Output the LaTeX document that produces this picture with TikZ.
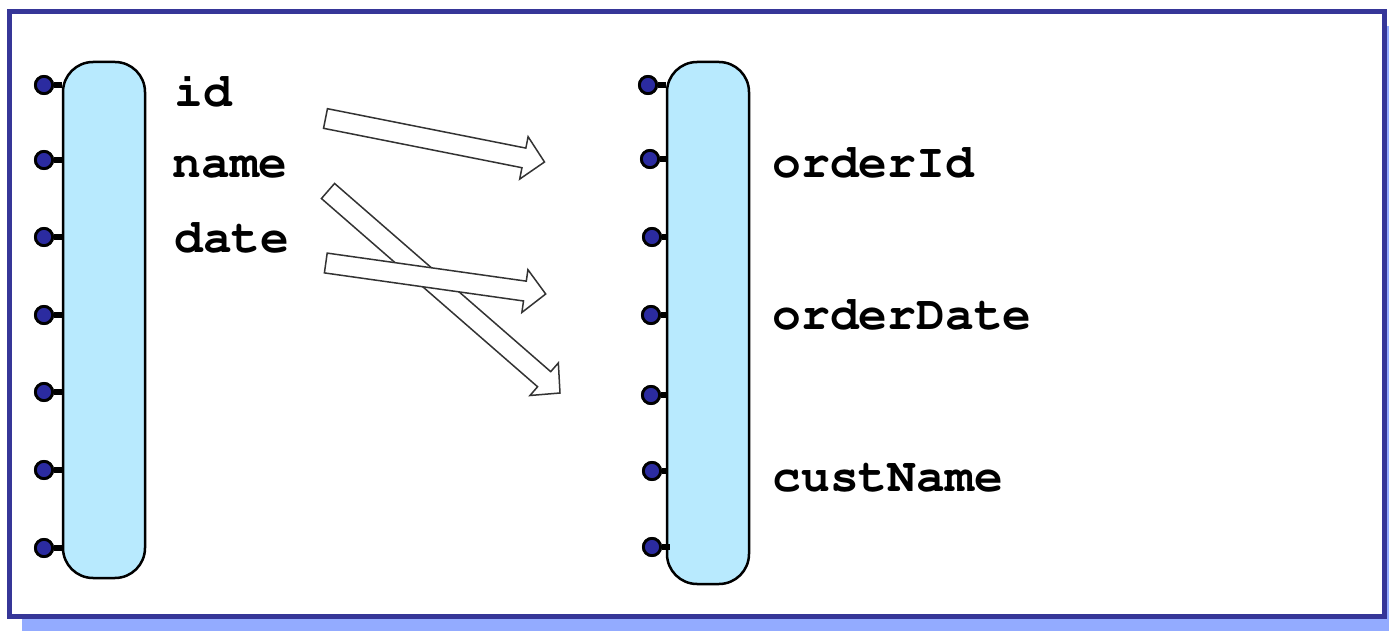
\documentclass[tikz,border=0pt]{standalone}
\usepackage[T1]{fontenc}
\usetikzlibrary{calc}
\definecolor{framec}{HTML}{363698}
\definecolor{shadowc}{HTML}{93ABFF}
\definecolor{barc}{HTML}{B8EAFE}
\definecolor{pinc}{HTML}{2B2BA0}
\definecolor{arrc}{HTML}{333333}
\tikzset{
  bar/.style={draw=black, line width=1.25pt, fill=barc, rounded corners=15pt,
    minimum width=41pt, inner sep=0pt},
  pindot/.style={circle, draw=black, line width=1.4pt, fill=pinc, minimum size=8.6pt, inner sep=0pt},
  stub/.style={line width=2.6pt, draw=black},
  lbl/.style={anchor=base west, inner sep=0pt, font=\fontfamily{pcr}\fontseries{b}\fontsize{24}{28}\selectfont},
  blk/.style={draw=arrc, line width=0.75pt, fill=white, line join=miter},
}
\newcommand{\blockarr}[3]{%
  \coordinate (#1t) at #2;
  \coordinate (#1p) at #3;
  \coordinate (#1h) at ($(#1p)!10.5pt!(#1t)$);
  \draw[blk] ($(#1t)!5pt!90:(#1p)$) -- ($(#1h)!5pt!90:(#1p)$) -- ($(#1h)!10.8pt!90:(#1p)$)
    -- (#1p) -- ($(#1h)!10.8pt!-90:(#1p)$) -- ($(#1h)!5pt!-90:(#1p)$) -- ($(#1t)!5pt!-90:(#1p)$) -- cycle;
}
\begin{document}
\begin{tikzpicture}[x=0.5pt,y=-0.5pt]
\useasboundingbox (0,0) rectangle (1389,631);
\begin{scope}
\clip (0,0) rectangle (1389,631);
\fill[shadowc] (22,26) rectangle (1400,640);
\end{scope}
\draw[framec, line width=2.5pt, fill=white] (9.5,11.5) rectangle (1384.7,616);

% bars
\node[bar, minimum height=258pt] (lbar) at (104,320) {};
\node[bar, minimum height=261pt] (rbar) at (708,323) {};

% left pins
\foreach \i/\x/\y in {1/44/85, 2/44/160, 3/44/237, 4/44/315, 5/44/392, 6/44/470, 7/44/548}{
  \node[pindot] (L\i) at (\x,\y) {};
}
\foreach \i in {1,...,7}{
  \draw[stub] (L\i.east) -- (L\i -| lbar.west);
  \node[pindot] at (L\i) {};
}
% right pins
\foreach \i/\x/\y in {1/648/85, 2/650/159, 3/652/237, 4/651/315, 5/651/395, 6/652/471, 7/652/547}{
  \node[pindot] (R\i) at (\x,\y) {};
}
\foreach \i in {1,...,6}{
  \draw[stub] (R\i.east) -- (R\i -| rbar.west);
  \node[pindot] at (R\i) {};
}
\draw[stub] (R7.east) -- ($(R7 -| rbar.west)+(4,0)$);
\node[pindot] at (R7) {};

% labels
\node[lbl] (tid) at (174,107) {id};
\node[lbl] (tname) at (172,178) {name};
\node[lbl] (tdate) at (174,253) {date};
\node[lbl] (torderId) at (772,177) {orderId};
\node[lbl] (torderDate) at (772,329) {orderDate};
\node[lbl] (tcustName) at (772,491) {custName};

% block arrows
\blockarr{a}{(325.5,118.5)}{(544.5,162)}
\blockarr{c}{(328,191)}{(560,393)}
\blockarr{b}{(325.8,263)}{(545.7,294)}
\end{tikzpicture}
\end{document}
